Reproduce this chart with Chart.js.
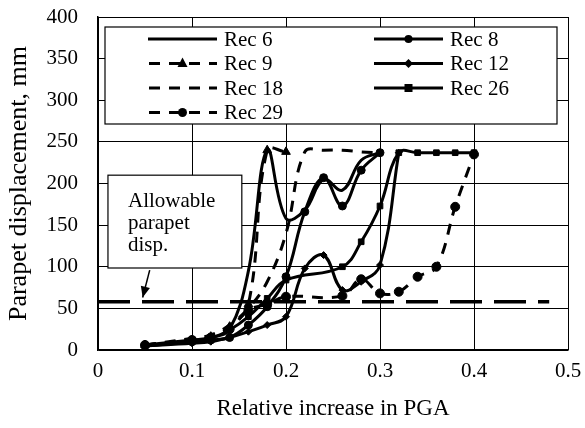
<!DOCTYPE html>
<html>
<head>
<meta charset="utf-8">
<script src="https://cdn.jsdelivr.net/npm/chart.js"></script>
<style>
  html, body { margin: 0; padding: 0; background: #fff; }
</style>
</head>
<body>
<canvas id="chart" width="585" height="428"></canvas>
<script>
// relative increase in PGA (x) and parapet displacement in mm (y)
const pgaSteps = [0.05, 0.1, 0.12, 0.14, 0.16, 0.18, 0.2, 0.22, 0.24, 0.26, 0.28, 0.3, 0.32, 0.34, 0.36, 0.38, 0.4];

const rec6  = [6, 12, 15, 25, 95, 240, 158, 168, 205, 192, 228, 237, null, null, null, null, null];
const rec8  = [5, 10, 12, 15, 30, 52, 88, 166, 207, 173, 216, 237, null, null, null, null, null];
const rec9  = [6, 12, 16, 28, 55, 240, 238, null, null, null, null, null, null, null, null, null, null];
const rec12 = [5, 8, 10, 15, 22, 30, 40, 98, 114, 72, 82, 102, 237, null, null, null, null];
const rec18 = [6, 14, 18, 30, 50, 82, 140, 238, 240, 240, 238, 237, null, null, null, null, null];
const rec26 = [5, 10, 14, 24, 40, 62, 84, null, null, 100, 130, 173, 237, 237, 237, 237, 237];
const rec29 = [6, 12, 15, 25, 48, 55, 64, null, null, 65, 85, 68, 70, 88, 100, 172, 235];

const allowableDisp = 58;
const allowableRange = [0, 0.48];

const xTicks = [0, 0.1, 0.2, 0.3, 0.4, 0.5];
const yMax = 400;

const serif = "'Liberation Serif', 'Times New Roman', serif";
const dash = [11, 9];

function pts(ys) {
  return pgaSteps.map((x, i) => ({ x: x, y: ys[i] }));
}

function series(label, ys, style, radius, dashed) {
  return {
    label: label,
    data: pts(ys),
    showLine: true,
    spanGaps: true,
    borderColor: '#000',
    backgroundColor: '#000',
    borderWidth: 3,
    borderDash: dashed ? dash : [],
    tension: 0.4,
    pointStyle: style || 'circle',
    pointRadius: style ? radius : 0,
    pointBorderWidth: 1,
    pointBackgroundColor: '#000',
    pointBorderColor: '#000'
  };
}

const datasets = [
  series('Rec 6', rec6, null, 0, false),
  series('Rec 8', rec8, 'circle', 4, false),
  series('Rec 9', rec9, 'triangle', 5, true),
  series('Rec 12', rec12, 'rectRot', 3.5, false),
  series('Rec 18', rec18, null, 0, true),
  series('Rec 26', rec26, 'rect', 4, false),
  series('Rec 29', rec29, 'circle', 4.5, true),
  {
    label: 'Allowable',
    data: allowableRange.map(x => ({ x: x, y: allowableDisp })),
    showLine: true,
    borderColor: '#000',
    borderWidth: 3.5,
    borderDash: [32, 12],
    pointRadius: 0,
    tension: 0
  }
];

function drawMarker(ctx, style, r, x, y) {
  ctx.save();
  ctx.setLineDash([]);
  ctx.fillStyle = '#000';
  ctx.beginPath();
  if (style === 'circle') {
    ctx.arc(x, y, r, 0, Math.PI * 2);
  } else if (style === 'rect') {
    ctx.rect(x - r, y - r, r * 2, r * 2);
  } else if (style === 'rectRot') {
    ctx.moveTo(x, y - r * 1.3);
    ctx.lineTo(x + r * 1.3, y);
    ctx.lineTo(x, y + r * 1.3);
    ctx.lineTo(x - r * 1.3, y);
    ctx.closePath();
  } else if (style === 'triangle') {
    ctx.moveTo(x, y - r * 1.2);
    ctx.lineTo(x + r, y + r * 0.7);
    ctx.lineTo(x - r, y + r * 0.7);
    ctx.closePath();
  }
  ctx.fill();
  ctx.restore();
}

// legend box in two columns and the "Allowable parapet disp." note
const boxes = {
  id: 'boxes',
  beforeDatasetsDraw(chart) {
    const ctx = chart.ctx;
    const a = chart.chartArea;
    const xs = chart.scales.x, ys = chart.scales.y;

    // legend
    const lx = a.left + 7, ly = a.top + 10, lw = a.right - a.left - 18, lh = 97;
    ctx.save();
    ctx.fillStyle = '#fff';
    ctx.fillRect(lx, ly, lw, lh);
    ctx.strokeStyle = '#000';
    ctx.lineWidth = 1.2;
    ctx.strokeRect(lx, ly, lw, lh);

    ctx.font = '21px ' + serif;
    ctx.textBaseline = 'middle';
    ctx.fillStyle = '#000';
    datasets.slice(0, 7).forEach((ds, i) => {
      const col = i % 2, row = Math.floor(i / 2);
      const x0 = lx + 43 + col * 226;
      const y0 = ly + 12 + row * 24.5;
      ctx.save();
      ctx.strokeStyle = '#000';
      ctx.lineWidth = 3;
      ctx.setLineDash(ds.borderDash);
      ctx.lineDashOffset = -1;
      ctx.beginPath();
      ctx.moveTo(x0, y0);
      ctx.lineTo(x0 + 69, y0);
      ctx.stroke();
      ctx.restore();
      if (ds.pointRadius > 0) drawMarker(ctx, ds.pointStyle, ds.pointRadius, x0 + 34.5, y0);
      ctx.fillText(ds.label, x0 + 76, y0 + 1);
    });

    // allowable displacement note
    const bx = xs.getPixelForValue(0.0106), by = ys.getPixelForValue(210);
    const bw = xs.getPixelForValue(0.153) - bx, bh = ys.getPixelForValue(98.5) - by;
    ctx.fillStyle = '#fff';
    ctx.fillRect(bx, by, bw, bh);
    ctx.strokeStyle = '#000';
    ctx.lineWidth = 1.2;
    ctx.strokeRect(bx, by, bw, bh);
    ctx.fillStyle = '#000';
    ctx.font = '21px ' + serif;
    ctx.textBaseline = 'alphabetic';
    ['Allowable', 'parapet', 'disp.'].forEach((t, i) => {
      ctx.fillText(t, bx + 20, by + 32 + i * 22);
    });

    // arrow to the dashed line
    const ax0 = xs.getPixelForValue(0.055), ay0 = ys.getPixelForValue(96);
    const ax1 = xs.getPixelForValue(0.0475), ay1 = ys.getPixelForValue(63);
    ctx.lineWidth = 1.5;
    ctx.beginPath();
    ctx.moveTo(ax0, ay0);
    ctx.lineTo(ax1, ay1);
    ctx.stroke();
    const ang = Math.atan2(ay1 - ay0, ax1 - ax0);
    ctx.beginPath();
    ctx.moveTo(ax1, ay1);
    ctx.lineTo(ax1 - 12 * Math.cos(ang - 0.4), ay1 - 12 * Math.sin(ang - 0.4));
    ctx.lineTo(ax1 - 12 * Math.cos(ang + 0.4), ay1 - 12 * Math.sin(ang + 0.4));
    ctx.closePath();
    ctx.fill();
    ctx.restore();
  }
};

new Chart(document.getElementById('chart'), {
  type: 'scatter',
  data: { datasets: datasets },
  options: {
    responsive: false,
    animation: false,
    devicePixelRatio: 1,
    layout: { padding: { top: 17, right: 17, left: 0, bottom: 0 } },
    plugins: {
      legend: { display: false },
      tooltip: { enabled: false }
    },
    scales: {
      x: {
        type: 'linear',
        min: xTicks[0],
        max: xTicks[xTicks.length - 1],
        afterBuildTicks: (scale) => { scale.ticks = xTicks.map(v => ({ value: v })); },
        afterFit: (scale) => {
          scale.height = 78;
          scale.paddingLeft = 0;
          scale.paddingRight = 0;
        },
        grid: { color: '#000', lineWidth: 1, drawTicks: false },
        border: { color: '#000', width: 1.5 },
        ticks: {
          padding: 9,
          color: '#000',
          font: { family: serif, size: 21 },
          callback: v => String(Number(v.toFixed(1)))
        },
        title: {
          display: true,
          text: 'Relative increase in PGA',
          color: '#000',
          font: { family: serif, size: 23 },
          padding: { top: 0, bottom: 5 }
        }
      },
      y: {
        min: 0,
        max: yMax,
        ticks: {
          stepSize: 50,
          padding: 20,
          color: '#000',
          font: { family: serif, size: 21 }
        },
        afterFit: (scale) => {
          scale.width = 98;
          scale.paddingTop = 0;
          scale.paddingBottom = 0;
        },
        grid: { color: '#000', lineWidth: 1, drawTicks: false },
        border: { color: '#000', width: 1.5 },
        title: {
          display: true,
          text: 'Parapet displacement, mm',
          color: '#000',
          font: { family: serif, size: 26 },
          padding: { top: 4, bottom: 0 }
        }
      }
    }
  },
  plugins: [boxes]
});
</script>
</body>
</html>
